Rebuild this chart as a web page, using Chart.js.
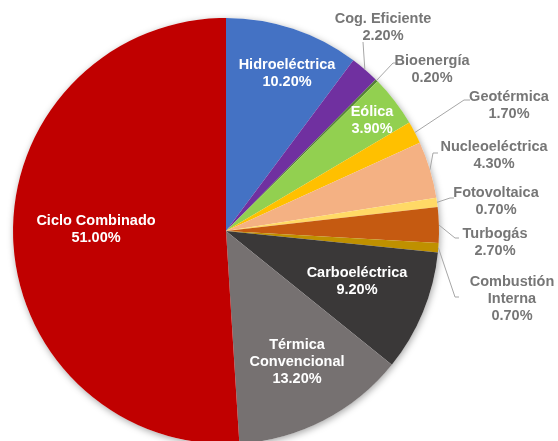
<!DOCTYPE html>
<html>
<head>
<meta charset="utf-8">
<script src="https://cdn.jsdelivr.net/npm/chart.js@4.4.1/dist/chart.umd.min.js"></script>
<style>
  html, body { margin: 0; padding: 0; background: #fff; overflow: hidden; }
  #wrap { position: relative; width: 558px; height: 460px; }
</style>
</head>
<body>
<div id="wrap"><canvas id="mixChart"></canvas></div>
<script>
// Generation mix by technology (%)
const tecnologias = ['Hidroeléctrica', 'Cog. Eficiente', 'Bioenergía', 'Eólica', 'Geotérmica',
    'Nucleoeléctrica', 'Fotovoltaica', 'Turbogás', 'Combustión Interna', 'Carboeléctrica',
    'Térmica Convencional', 'Ciclo Combinado'];
const porcentajes = [10.2, 2.2, 0.2, 3.9, 1.7, 4.3, 0.7, 2.7, 0.7, 9.2, 13.2, 51.0];
const colores = ['#4472C4', '#7030A0', '#548235', '#92D050', '#FFC000', '#F4B183',
    '#FFD966', '#C55A11', '#BF9000', '#3A3838', '#767171', '#C00000'];

// Label placement: text lines, centre of text block, and optional leader elbow
const etiquetas = [
    { lines: ['Hidroeléctrica'], x: 287, y: 65, inside: true },
    { lines: ['Cog. Eficiente'], x: 383, y: 19, elbow: [363, 42], end: [363, 42] },
    { lines: ['Bioenergía'], x: 432, y: 61, elbow: [393, 63], end: [398, 63] },
    { lines: ['Eólica'], x: 372, y: 112, inside: true },
    { lines: ['Geotérmica'], x: 509, y: 97, elbow: [464, 100], end: [470, 100] },
    { lines: ['Nucleoeléctrica'], x: 494, y: 147, elbow: [433, 153], end: [438, 153] },
    { lines: ['Fotovoltaica'], x: 496, y: 193, elbow: [450, 198], end: [454, 198] },
    { lines: ['Turbogás'], x: 495, y: 234, elbow: [455, 238], end: [459, 238] },
    { lines: ['Combustión', 'Interna'], x: 512, y: 282, elbow: [455, 297], end: [459, 297] },
    { lines: ['Carboeléctrica'], x: 357, y: 273, inside: true },
    { lines: ['Térmica', 'Convencional'], x: 297, y: 345, inside: true },
    { lines: ['Ciclo Combinado'], x: 96, y: 221, inside: true }
];

const FONT = 'bold 14.5px "Liberation Sans", Arial, sans-serif';
const LINE_H = 17;

// Soft shadow under the whole pie
const sombraPlugin = {
    id: 'sombra',
    beforeDatasetsDraw(chart) {
        const arc = chart.getDatasetMeta(0).data[0];
        if (!arc) return;
        const ctx = chart.ctx;
        ctx.save();
        ctx.shadowColor = 'rgba(0,0,0,0.35)';
        ctx.shadowBlur = 7;
        ctx.shadowOffsetX = 1;
        ctx.shadowOffsetY = 2;
        ctx.fillStyle = '#fff';
        ctx.beginPath();
        ctx.arc(arc.x, arc.y, arc.outerRadius, 0, Math.PI * 2);
        ctx.fill();
        ctx.restore();
    }
};

// Data labels with leader lines
const etiquetasPlugin = {
    id: 'etiquetas',
    afterDatasetsDraw(chart) {
        const ctx = chart.ctx;
        const meta = chart.getDatasetMeta(0);
        ctx.save();
        ctx.font = FONT;
        ctx.textAlign = 'center';
        ctx.textBaseline = 'middle';
        meta.data.forEach((arc, i) => {
            const lab = etiquetas[i];
            const texto = lab.lines.concat([porcentajes[i].toFixed(2) + '%']);
            if (!lab.inside) {
                const mid = (arc.startAngle + arc.endAngle) / 2;
                const sx = arc.x + Math.cos(mid) * arc.outerRadius;
                const sy = arc.y + Math.sin(mid) * arc.outerRadius;
                ctx.strokeStyle = '#A6A6A6';
                ctx.lineWidth = 1;
                ctx.beginPath();
                ctx.moveTo(sx, sy);
                ctx.lineTo(lab.elbow[0], lab.elbow[1]);
                ctx.lineTo(lab.end[0], lab.end[1]);
                ctx.stroke();
            }
            ctx.fillStyle = lab.inside ? '#FFFFFF' : '#767676';
            texto.forEach((t, k) => ctx.fillText(t, lab.x, lab.y + k * LINE_H));
        });
        ctx.restore();
    }
};

new Chart(document.getElementById('mixChart'), {
    type: 'pie',
    data: {
        labels: tecnologias,
        datasets: [{
            data: porcentajes,
            backgroundColor: colores,
            borderWidth: 0
        }]
    },
    options: {
        responsive: true,
        maintainAspectRatio: false,
        animation: false,
        layout: { padding: { left: 13, right: 119, top: 18, bottom: 16 } },
        plugins: {
            legend: { display: false },
            tooltip: { enabled: false }
        }
    },
    plugins: [sombraPlugin, etiquetasPlugin]
});
</script>
</body>
</html>
